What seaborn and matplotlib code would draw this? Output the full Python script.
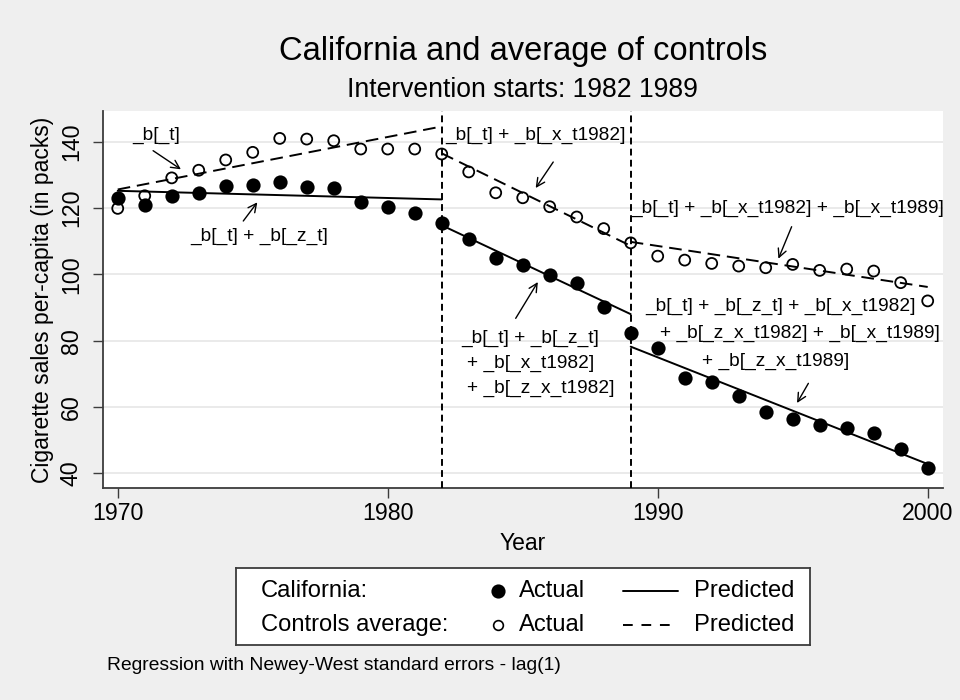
import matplotlib
matplotlib.use("Agg")
import numpy as np
import pandas as pd
import matplotlib.pyplot as plt
from matplotlib.lines import Line2D
import seaborn as sns

# ----- data -----
years = list(range(1970, 2001))
california = [123.0, 121.0, 123.5, 124.4, 126.7, 127.1, 128.0, 126.4, 126.1, 121.9,
              120.2, 118.6, 115.4, 110.8, 104.8, 102.8, 99.7, 97.5, 90.1, 82.4,
              77.8, 68.7, 67.5, 63.4, 58.6, 56.4, 54.5, 53.8, 52.3, 47.2, 41.6]
controls = [119.9, 123.7, 129.1, 131.4, 134.5, 136.8, 141.0, 140.8, 140.3, 137.8,
            137.8, 137.8, 136.3, 130.9, 124.6, 123.1, 120.4, 117.3, 113.8, 109.5,
            105.5, 104.3, 103.3, 102.5, 102.0, 103.0, 101.2, 101.6, 101.0, 97.5, 92.0]

interventions = [1982, 1989]

# predicted segments (piecewise linear fit)
seg_start = [1970, 1982, 1989]
seg_end = [1982, 1989, 2000]
ca_pred_start = [125.2, 114.8, 78.2]
ca_pred_end = [122.6, 88.0, 42.8]
ctrl_pred_start = [125.6, 136.5, 109.8]
ctrl_pred_end = [144.6, 108.6, 96.2]

yticks = [40, 60, 80, 100, 120, 140]
xticks = [1970, 1980, 1990, 2000]

title = "California and average of controls"
subtitle = "Intervention starts: 1982 1989"
note = "Regression with Newey-West standard errors - lag(1)"

# ----- tidy frames -----
actual = pd.DataFrame({
    "year": years * 2,
    "sales": california + controls,
    "group": ["California"] * len(years) + ["Controls"] * len(years),
})

rows = []
for name, st, en in [("California", ca_pred_start, ca_pred_end),
                     ("Controls", ctrl_pred_start, ctrl_pred_end)]:
    for i in range(len(seg_start)):
        rows.append((name, i, seg_start[i], st[i]))
        rows.append((name, i, seg_end[i], en[i]))
pred = pd.DataFrame(rows, columns=["group", "segment", "year", "sales"])

# ----- style -----
sns.set_theme(style="white")
plt.rcParams["font.family"] = ["Liberation Sans", "DejaVu Sans"]
plt.rcParams.update({"text.color": "black", "axes.labelcolor": "black",
                     "xtick.color": "black", "ytick.color": "black"})
BG = "#efefef"
AX_COL = "#3c3c3c"

fig = plt.figure(figsize=(9.6, 7.0), dpi=100, facecolor=BG)
ax = fig.add_axes([0.107, 0.3024, 0.875, 0.539])
ax.set_facecolor("white")

sns.lineplot(data=pred, x="year", y="sales", style="group", units="segment",
             estimator=None, color="black", lw=1.4, legend=False, ax=ax,
             dashes={"California": "", "Controls": (6.5, 3.5)}, zorder=2)

sns.scatterplot(data=actual[actual.group == "California"], x="year", y="sales",
                color="black", s=105, linewidth=0, legend=False, ax=ax, zorder=4)
sns.scatterplot(data=actual[actual.group == "Controls"], x="year", y="sales",
                facecolor="none", edgecolor="black", s=62, linewidth=1.3,
                legend=False, ax=ax, zorder=4)

for yr in interventions:
    ax.axvline(yr, color="black", lw=1.4, linestyle=(0, (3.5, 2.2)), zorder=3)

# annotations: (text, x, y, ha)
labels = [
    ("_b[_t]", 1971.41, 142.0, "center"),
    ("_b[_t] + _b[_z_t]", 1975.23, 111.35, "center"),
    ("_b[_t] + _b[_x_t1982]", 1985.49, 142.0, "center"),
    ("_b[_t] + _b[_x_t1982] + _b[_x_t1989]", 1994.81, 119.9, "center"),
    ("_b[_t] + _b[_z_t] + _b[_x_t1982]", 1989.53, 90.24, "left"),
    ("+ _b[_z_x_t1982] + _b[_x_t1989]", 1990.08, 82.22, "left"),
    ("+ _b[_z_x_t1989]", 1991.63, 73.66, "left"),
    ("_b[_t] + _b[_z_t]", 1982.74, 80.71, "left"),
    ("+ _b[_x_t1982]", 1982.93, 73.17, "left"),
    ("+ _b[_z_x_t1982]", 1982.93, 65.63, "left"),
]
for txt, x, y, ha in labels:
    ax.text(x, y, txt, ha=ha, va="center", fontsize=13.8, color="black", zorder=5)

# arrows: (tail, head)
arrows = [
    ((1971.31, 137.3), (1972.34, 131.68)),
    ((1974.65, 116.09), (1975.17, 121.73)),
    ((1986.13, 133.88), (1985.48, 126.04)),
    ((1994.96, 114.37), (1994.47, 104.72)),
    ((1995.58, 67.14), (1995.16, 61.21)),
    ((1984.74, 86.74), (1985.56, 97.69)),
]
for tail, head in arrows:
    ax.annotate("", xy=head, xytext=tail,
                arrowprops=dict(arrowstyle="->", lw=1.0, color="black",
                                shrinkA=0, shrinkB=0, mutation_scale=15))

ax.set_xlim(1969.444, 2000.556)
ax.set_ylim(35.48, 149.26)
ax.set_xticks(xticks)
ax.set_yticks(yticks)
ax.yaxis.grid(True, color="#e6e6e6", lw=1.2)
ax.xaxis.grid(False)
ax.set_axisbelow(True)
for side in ["top", "right"]:
    ax.spines[side].set_visible(False)
for side in ["left", "bottom"]:
    ax.spines[side].set_color(AX_COL)
    ax.spines[side].set_linewidth(1.3)
ax.tick_params(axis="both", direction="out", length=7.2, width=1.0,
               color=AX_COL, labelcolor="black", labelsize=16.7, left=True, bottom=True)
ax.tick_params(axis="y", labelrotation=90, pad=7)
ax.tick_params(axis="x", pad=3)
for lbl in ax.get_yticklabels():
    lbl.set_va("center")
ax.set_xlabel("Year", fontsize=16.5, labelpad=5, color="black")
ax.set_ylabel("Cigarette sales per-capita (in packs)", fontsize=16.5, labelpad=4, color="black")

cx = (0.107 + 0.875 / 2)
fig.text(cx, 1 - 51.7 / 700, title, ha="center", va="center", fontsize=23.5, color="black")
fig.text(cx, 1 - 90 / 700, subtitle, ha="center", va="center", fontsize=19.1, color="black")
fig.text(106.7 / 960, 1 - 666 / 700, note, ha="left", va="center", fontsize=13.9, color="black")

# ----- legend box -----
lg = fig.add_axes([235.7 / 960, 1 - 645 / 700, 574.3 / 960, 76.7 / 700])
lg.set_facecolor("white")
lg.set_xlim(0, 1)
lg.set_ylim(0, 1)
lg.set_xticks([])
lg.set_yticks([])
for sp in lg.spines.values():
    sp.set_color(AX_COL)
    sp.set_linewidth(1.3)
legend_rows = [("California:", "black", "-", 9.0), ("Controls average:", "none", (0, (5, 4.5)), 7.0)]
row_y = [0.70, 0.26]
for (lab, face, ls, ms), yy in zip(legend_rows, row_y):
    lg.text(0.0435, yy, lab, ha="left", va="center", fontsize=17.1, color="black")
    lg.plot([0.4572], [yy], marker="o", ms=ms, mfc=face, mec="black", mew=1.2, ls="none")
    lg.text(0.4938, yy, "Actual", ha="left", va="center", fontsize=17.1, color="black")
    lg.add_line(Line2D([0.6749, 0.7707], [yy, yy], color="black", lw=1.4, linestyle=ls))
    lg.text(0.7980, yy, "Predicted", ha="left", va="center", fontsize=17.1, color="black")

fig.savefig("out.png", dpi=100, facecolor=BG)
